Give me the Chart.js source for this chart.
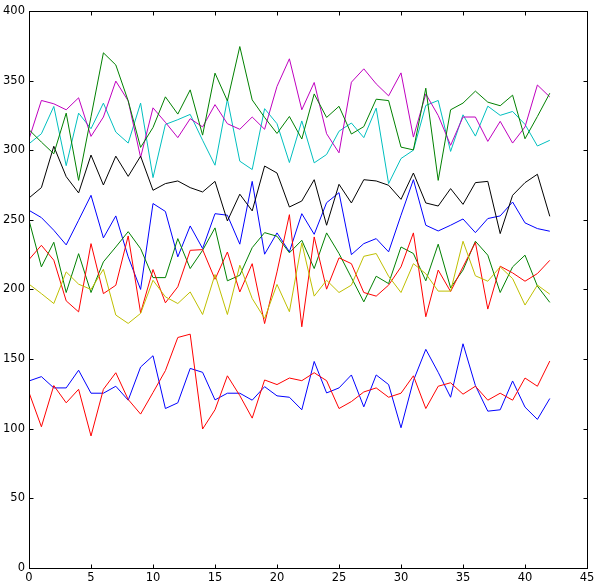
<!DOCTYPE html>
<html>
<head>
<meta charset="utf-8">
<script src="https://cdn.jsdelivr.net/npm/chart.js@4/dist/chart.umd.min.js"></script>
<style>
html,body{margin:0;padding:0;background:#fff;}
canvas{display:block;}
</style>
</head>
<body>
<canvas id="c" width="600" height="588"></canvas>
<script>
const xTicks = [0,5,10,15,20,25,30,35,40,45];
const yTicks = [0,50,100,150,200,250,300,350,400];

const blueUpper = [256.8,251.6,242.5,232,249.7,267.6,237,252.8,223.4,200,261.7,256,223.4,245.6,229.4,254.4,253.3,232.5,277.6,225.3,240.6,227,254.4,239.6,262.3,269.5,225,232.9,236.5,227,253.3,278.8,246.1,242,246.1,250.6,240.8,250.9,252.8,262.8,247.8,243.7,241.8];
const greenLower = [249.7,216.2,233.9,197.8,225.7,197.8,219.8,230.5,241.5,229.3,208.5,208.5,236.5,215,228.1,244.2,206.2,210.2,230,240.8,238.2,226.3,235.3,215,240.6,225.8,208.5,191.1,209.5,204.2,230.5,225.8,206.2,232.5,201.2,213.9,234.6,224.6,197.8,216.2,224.6,202.4,190.7];
const redMid = [221.5,231.7,221,191.8,183.9,232.9,197,203,238.4,183.2,214.3,190.4,201.9,228.1,228.6,207.3,226.9,198.2,218.5,175.5,212.6,253.7,173.2,237.7,200.2,222.7,218.5,197.8,195.2,203.1,216.2,240.6,180.4,213.9,198.5,216.2,233.7,185.9,216.7,211.9,205.9,211.4,220.9];
const cyanLine = [304.6,311.8,331.4,288.9,326.6,315.4,333.8,313,305.1,333.8,280.3,318.5,321.9,325.7,307.1,289.2,336.6,292.1,286.1,329.8,319,291.1,321,290.9,296.9,313.6,319.5,309,330.2,276,294,300,332.1,335.7,299.1,325.4,310.1,331.6,325,327.8,318.5,303,307.1];
const magentaLine = [308,335.7,333.3,329,337.6,309.9,323.8,349.6,335.4,294.8,330.4,320,309,322.6,316.7,332.7,319,315,323.8,315,345.8,365.6,329,348.6,311.8,298.1,348.8,358.4,347.6,339,355.5,309.4,340.4,324.9,303.5,323.8,323.8,306.3,320.7,305.1,316.7,346.8,338.2];
const yellowLine = [203.8,197,189.9,212.6,203.8,200,214.5,181.6,175.6,182.8,206.6,194.7,189.9,198.2,182,210.7,182,217.4,193.5,179.2,203.6,184,233.4,195.2,206.6,197.8,203.1,223.8,225.8,209.5,197.8,218.5,211.3,198.8,198.8,234.6,209.8,205.9,216.2,207.8,188.8,203.1,196.6];
const blackLine = [265.7,273.1,302.8,281,269.3,296.5,275,295.7,281.2,295.7,271.2,276,277.9,273.1,270,277.6,249.2,268.4,256.4,288.6,283.6,259.2,263.5,278.8,246.1,275.5,262.1,278.8,277.9,274.8,264.7,283.6,262.1,259.9,272.4,261.1,276.7,277.6,240.1,267.6,276.7,282.7,252.5];
const blueLower = [134.3,137.4,129.3,129.3,142,125.5,125.5,130.5,120.5,144.3,152.4,114.5,118.6,143.3,140.5,120.7,125.5,125.5,120.5,130.2,123.6,122.6,113.6,148.3,125.7,129.3,138.6,115.7,138.6,131.7,100.7,134.5,157,140.5,122.6,161,131,112.6,113.6,134.3,115.5,106.7,121.7];
const greenUpper = [314.7,305.8,297.4,326.6,278.3,324,369.9,361.2,335.4,302,316.3,338.3,325.9,343.3,310.8,355.3,335.4,374.4,336.1,323.5,312,324.2,308,340.4,323.5,331.5,311.6,316.9,336.6,335.6,302.2,300.2,344.5,278.3,329,333.8,342.4,334.5,331.9,339.5,308.2,324.2,340.9];
const redLower = [126,101.4,131,118.6,128.3,94.8,128.3,140.2,121,110.5,126,141.7,165.5,167.9,99.8,113.6,138,123.8,107.6,135,131.7,136.4,134.5,140.2,134.5,114.5,119.5,126.4,129.3,122.6,125.5,138,114.5,130.5,133,124.8,130.5,120.5,125.5,120.5,136.4,130.5,148.6];

const seriesList = [blueUpper, greenLower, redMid, cyanLine, magentaLine, yellowLine, blackLine, blueLower, greenUpper, redLower];
const colors = ['#0000ff','#008000','#ff0000','#00bfbf','#bf00bf','#bfbf00','#000000','#0000ff','#008000','#ff0000'];

const datasets = seriesList.map((arr, k) => ({
  data: arr.map((v, i) => ({x: i, y: v})),
  borderColor: colors[k],
  backgroundColor: colors[k],
  borderWidth: 1,
  pointRadius: 0,
  tension: 0,
  fill: false,
  order: 20 - k
}));

const frameTicks = {
  id: 'frameTicks',
  afterDraw(chart) {
    const ctx = chart.ctx;
    const a = chart.chartArea;
    const xs = chart.scales.x, ys = chart.scales.y;
    ctx.save();
    ctx.strokeStyle = '#000';
    ctx.lineWidth = 1;
    const L = Math.round(a.left) + 0.5, R = Math.round(a.right) + 0.5;
    const T = Math.round(a.top) + 0.5, B = Math.round(a.bottom) + 0.5;
    ctx.beginPath();
    const tl = 4;
    xTicks.forEach(v => {
      const p = Math.round(xs.getPixelForValue(v)) + 0.5;
      ctx.moveTo(p, B); ctx.lineTo(p, B - tl);
      ctx.moveTo(p, T); ctx.lineTo(p, T + tl);
    });
    yTicks.forEach(v => {
      const p = Math.round(ys.getPixelForValue(v)) + 0.5;
      ctx.moveTo(L, p); ctx.lineTo(L + tl, p);
      ctx.moveTo(R, p); ctx.lineTo(R - tl, p);
    });
    ctx.stroke();
    ctx.strokeRect(L, T, R - L, B - T);
    ctx.restore();
  }
};

const font = {family: 'DejaVu Sans', size: 11.5};

new Chart(document.getElementById('c'), {
  type: 'line',
  data: {datasets},
  options: {
    responsive: false,
    animation: false,
    events: [],
    layout: {padding: {top: 10, right: 13, left: 0, bottom: 0}},
    plugins: {legend: {display: false}, tooltip: {enabled: false}},
    scales: {
      x: {
        type: 'linear', min: 0, max: 45,
        afterBuildTicks: s => { s.ticks = xTicks.map(v => ({value: v})); },
        ticks: {color: '#000', font, padding: 3, maxRotation: 0, autoSkip: false},
        grid: {display: false, drawTicks: false},
        border: {display: false},
        afterFit: s => { s.height = 20; }
      },
      y: {
        type: 'linear', min: 0, max: 400,
        afterBuildTicks: s => { s.ticks = yTicks.map(v => ({value: v})); },
        ticks: {color: '#000', font, padding: 4, autoSkip: false},
        grid: {display: false, drawTicks: false},
        border: {display: false},
        afterFit: s => { s.width = 29; }
      }
    }
  },
  plugins: [frameTicks]
});
</script>
</body>
</html>
